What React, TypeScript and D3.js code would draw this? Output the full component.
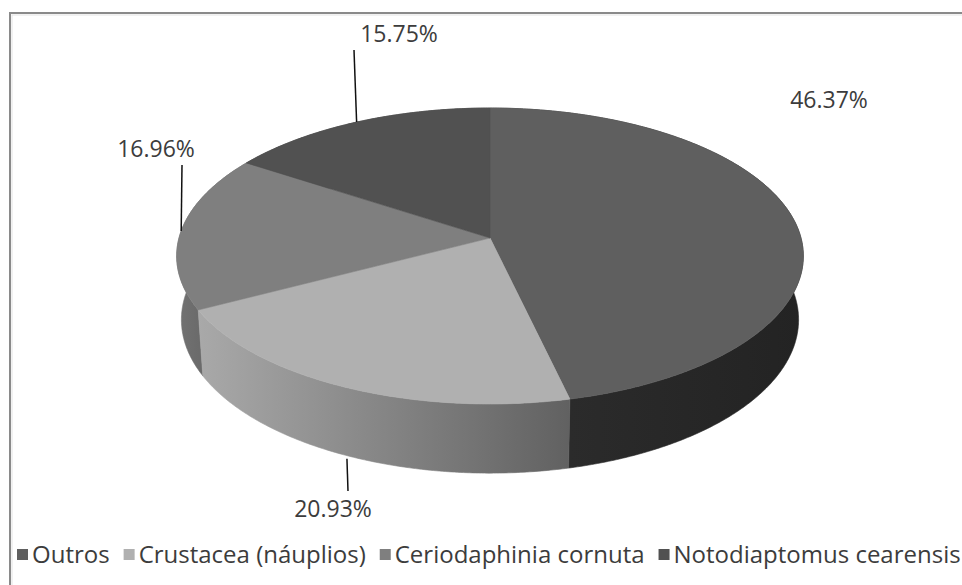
import React from 'react';
import * as d3 from 'd3';

const categories = ['Outros', 'Crustacea (náuplios)', 'Ceriodaphinia cornuta', 'Notodiaptomus cearensis'];
const values = [46.37, 20.93, 16.96, 15.75];
const labels = ['46.37%', '20.93%', '16.96%', '15.75%'];
const topColors = ['#5f5f5f', '#b0b0b0', '#7f7f7f', '#515151'];
const sideColorsA = ['#2b2b2b', '#a9a9a9', '#737373', '#454545'];
const sideColorsB = ['#232323', '#616161', '#6b6b6b', '#404040'];
// label layout (centre x, baseline y) and leader-line outer end (null = no leader)
const labelPos: [number, number][] = [[829, 108], [333, 517], [156, 157], [399, 42]];
const leaderStart: ([number, number] | null)[] = [null, [348, 491], [182, 165], [354, 50]];

const W = 962;
const H = 585;
const FONT = '"Open Sans", "Liberation Sans", sans-serif';

// 3D projection parameters
const cx = 490;
const cy = 238;
const S = 311;
const sinA = 0.4688;
const cosA = Math.sqrt(1 - sinA * sinA);
const DIST = 7.26;
const DEPTH = 0.234;

function proj(phi: number, r: number, y: number): [number, number] {
  const x = r * Math.sin(phi);
  const z = -r * Math.cos(phi);
  const depth = DIST - (y * sinA + z * cosA);
  const u = y * cosA - z * sinA;
  return [cx + (S * x * DIST) / depth, cy - (S * u * DIST) / depth];
}

function arcPoints(a0: number, a1: number, y: number): [number, number][] {
  const n = Math.max(2, Math.ceil(Math.abs(a1 - a0) / (Math.PI / 360)));
  const pts: [number, number][] = [];
  for (let i = 0; i <= n; i++) {
    const a = a0 + ((a1 - a0) * i) / n;
    pts.push(proj(a, 1, y));
  }
  return pts;
}

function measure(text: string, size: number): number {
  if (typeof document === 'undefined') return text.length * size * 0.55;
  const c = document.createElement('canvas');
  const ctx = c.getContext('2d');
  if (!ctx) return text.length * size * 0.55;
  ctx.font = `${size}px "Open Sans"`;
  return ctx.measureText(text).width;
}

export default function App() {
  const pie = d3.pie<number>().sort(null).value((d) => d);
  const arcs = pie(values);
  const line = d3.line();

  const sides = arcs.map((a, i) => {
    const top = arcPoints(a.startAngle, a.endAngle, 0);
    const bottom = arcPoints(a.endAngle, a.startAngle, -DEPTH);
    const pts = top.concat(bottom);
    const front = top.filter((_, k) => {
      const ang = a.startAngle + ((a.endAngle - a.startAngle) * k) / (top.length - 1);
      return -Math.cos(ang) > -0.1;
    });
    const xs = (front.length ? front : top).map((p) => p[0]);
    const midZ = -Math.cos((a.startAngle + a.endAngle) / 2);
    return { i, d: line(pts) + 'Z', x1: d3.min(xs) as number, x2: d3.max(xs) as number, midZ };
  });
  const sideOrder = [...sides].sort((p, q) => p.midZ - q.midZ);

  const tops = arcs.map((a, i) => {
    const pts = [proj(0, 0, 0), ...arcPoints(a.startAngle, a.endAngle, 0)];
    return { i, d: line(pts) + 'Z' };
  });

  const leaders = arcs.map((a, i) => {
    const st = leaderStart[i];
    if (!st) return null;
    const mid = (a.startAngle + a.endAngle) / 2;
    const front = -Math.cos(mid) > 0.5;
    const end = proj(mid, 1, front ? -DEPTH : 0);
    return { i, x1: st[0], y1: st[1], x2: end[0], y2: front ? end[1] + 3 : end[1] };
  });

  // legend layout
  const legendFont = 24;
  const sq = 11;
  let lx = 17;
  const legendItems = categories.map((c, i) => {
    const item = { i, c, sx: lx, tx: lx + sq + 4 };
    lx = item.tx + measure(c, legendFont) + 14;
    return item;
  });
  const legendY = 563;

  return (
    <svg
      width={W}
      height={H}
      style={{ position: 'absolute', left: 0, top: 0, background: '#fff' }}
      fontFamily={FONT}
    >
      <defs>
        {sides.map((s) => (
          <linearGradient
            key={s.i}
            id={`sideGrad${s.i}`}
            gradientUnits="userSpaceOnUse"
            x1={s.x1}
            x2={s.x2}
            y1={0}
            y2={0}
          >
            <stop offset="0" stopColor={sideColorsA[s.i]} />
            <stop offset="1" stopColor={sideColorsB[s.i]} />
          </linearGradient>
        ))}
      </defs>
      <rect x={10} y={13} width={1000} height={1000} fill="none" stroke="#8a8a8a" strokeWidth={2} />
      <rect x={12} y={15} width={1000} height={1000} fill="none" stroke="#e4e4e4" strokeWidth={1} />
      <g>
        {sideOrder.map((s) => (
          <path key={'s' + s.i} d={s.d} fill={`url(#sideGrad${s.i})`} stroke={`url(#sideGrad${s.i})`} strokeWidth={0.6} />
        ))}
        {tops.map((t) => (
          <path key={'t' + t.i} d={t.d} fill={topColors[t.i]} stroke={topColors[t.i]} strokeWidth={0.6} />
        ))}
      </g>
      <g>
        {leaders.map((l) =>
          l ? (
            <line key={'l' + l.i} x1={l.x1} y1={l.y1} x2={l.x2} y2={l.y2} stroke="#111" strokeWidth={1.5} />
          ) : null
        )}
        {labels.map((t, i) => (
          <text key={'lab' + i} x={labelPos[i][0]} y={labelPos[i][1]} textAnchor="middle" fontSize={23} fill="#3c3c3c">
            {t}
          </text>
        ))}
      </g>
      <g>
        {legendItems.map((it) => (
          <g key={'lg' + it.i}>
            <rect x={it.sx} y={legendY - 14} width={sq} height={sq} fill={topColors[it.i]} />
            <text x={it.tx} y={legendY} fontSize={legendFont} fill="#3c3c3c">
              {it.c}
            </text>
          </g>
        ))}
      </g>
    </svg>
  );
}
